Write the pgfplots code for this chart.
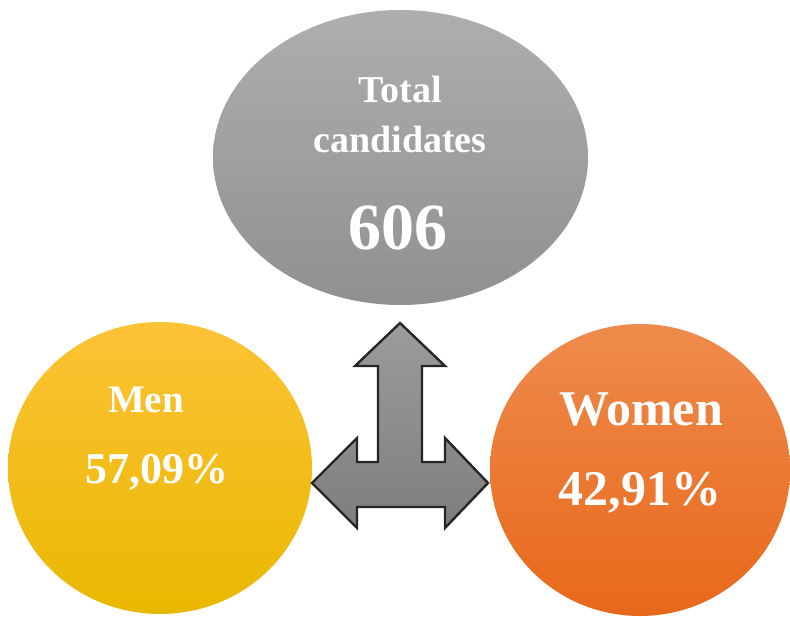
\documentclass[border=0pt]{standalone}
\usepackage{fontspec}
\setmainfont{Liberation Serif}
\usepackage{pgfplots}
\pgfplotsset{compat=1.18}
\definecolor{grayTop}{HTML}{AEAEAE}
\definecolor{grayBot}{HTML}{909090}
\definecolor{yelTop}{HTML}{FDC236}
\definecolor{yelMid}{HTML}{FCC200}
\definecolor{yelBot}{HTML}{E9B800}
\definecolor{orTop}{HTML}{EF8B4C}
\definecolor{orBot}{HTML}{E8681A}
\definecolor{arTop}{HTML}{9C9C9C}
\definecolor{arBot}{HTML}{7E7E7E}
\begin{document}
\begin{tikzpicture}
\begin{axis}[
  x=0.5pt, y=0.5pt,
  xmin=0, xmax=790, ymin=0, ymax=616,
  hide axis, clip=false,
]
% ellipses (centres and radii in pixels of the reference)
\draw[draw=none, top color=grayTop, bottom color=grayBot]
  (axis cs:400.5,458.5) ellipse [x radius=187.5, y radius=147.5];
\draw[draw=none, top color=yelTop, middle color=yelMid, bottom color=yelBot]
  (axis cs:160,148) ellipse [x radius=152, y radius=146];
\draw[draw=none, top color=orTop, bottom color=orBot]
  (axis cs:640,146) ellipse [x radius=150, y radius=146];
% three-way arrow
\addplot[draw=black!85, line width=1.2pt, top color=arTop, bottom color=arBot, line join=miter] coordinates {
 (400,293) (445,250) (422,250) (422,154) (445,154) (445,178) (488,133)
 (445,88) (445,109) (357,109) (357,88) (312,133) (357,178) (357,154)
 (378,154) (378,250) (355,250)
} -- cycle;
% labels
\node[text=white, font=\bfseries\fontsize{19}{22}\selectfont] at (axis cs:400,526) {Total};
\node[text=white, font=\bfseries\fontsize{19}{22}\selectfont] at (axis cs:400,476) {candidates};
\node[text=white, font=\bfseries\fontsize{33}{37}\selectfont] at (axis cs:398,388) {606};
\node[text=white, font=\bfseries\fontsize{19.5}{22}\selectfont] at (axis cs:146,216) {Men};
\node[text=white, font=\bfseries\fontsize{22}{25}\selectfont] at (axis cs:157,144) {57,09\%};
\node[text=white, font=\bfseries\fontsize{25}{28}\selectfont] at (axis cs:641,206) {Women};
\node[text=white, font=\bfseries\fontsize{25}{28}\selectfont] at (axis cs:640,123) {42,91\%};
\end{axis}
\pgfresetboundingbox
\path (0,0) rectangle (395pt,308pt);
\end{tikzpicture}
\end{document}
